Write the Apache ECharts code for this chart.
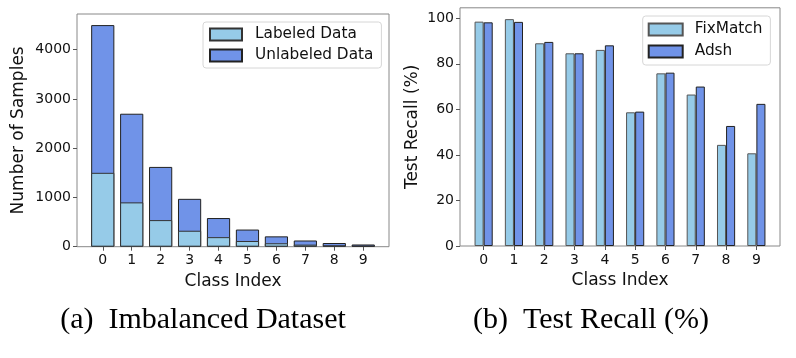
<!DOCTYPE html>
<html>
<head>
<meta charset="utf-8">
<script src="https://cdn.jsdelivr.net/npm/echarts@6/dist/echarts.min.js"></script>
<style>html,body{margin:0;padding:0;background:#fff;}#c{width:796px;height:358px;}</style>
</head>
<body>
<div id="c"></div>
<script>
const categories = ['0','1','2','3','4','5','6','7','8','9'];
const labeledData = [1500, 900, 540, 324, 194, 116, 70, 42, 25, 15];
const unlabeledData = [3000, 1800, 1080, 648, 388, 232, 140, 84, 50, 30];
const fixMatchRecall = [98.5, 99.6, 89.0, 84.6, 86.1, 58.7, 75.8, 66.5, 44.4, 40.7];
const adshRecall = [98.2, 98.4, 89.6, 84.6, 88.1, 59.0, 76.1, 70.0, 52.7, 62.4];
const leftYTicks = [0, 1000, 2000, 3000, 4000];
const rightYTicks = [0, 20, 40, 60, 80, 100];
const xTicks = [0,1,2,3,4,5,6,7,8,9];

const FONT = 'DejaVu Sans';
const LIGHT = '#96cbe8';
const BLUE = '#7093e8';

const chart = echarts.init(document.getElementById('c'), null, {renderer: 'canvas'});

function xAxisCfg(gridIndex, min, max) {
  return {
    type: 'value', gridIndex, min, max,
    axisLine: {show: false, onZero: false},
    splitLine: {show: false},
    axisTick: {show: true, customValues: xTicks, length: 4, lineStyle: {color: '#555'}},
    axisLabel: {show: true, customValues: xTicks, formatter: v => categories[Math.round(v)], fontFamily: FONT, fontSize: 14, color: '#111', margin: 7},
    name: 'Class Index', nameLocation: 'middle', nameGap: 24,
    nameTextStyle: {fontFamily: FONT, fontSize: 17, color: '#111'}
  };
}
function hiddenXCfg(gridIndex, min, max) {
  return {type: 'value', gridIndex, min, max, show: false, axisLine: {onZero: false}};
}
function yAxisCfg(gridIndex, max, ticks, name, gap) {
  return {
    type: 'value', gridIndex, min: 0, max: max,
    axisLine: {show: false, onZero: false},
    splitLine: {show: false},
    axisTick: {show: true, customValues: ticks, length: 4, lineStyle: {color: '#555'}},
    axisLabel: {customValues: ticks, formatter: v => String(v), fontFamily: FONT, fontSize: 14, color: '#111', margin: 6},
    name: name, nameLocation: 'middle', nameGap: gap,
    nameTextStyle: {fontFamily: FONT, fontSize: 17, color: '#111'}
  };
}

const totals = labeledData.map((v, i) => v + unlabeledData[i]);

chart.setOption({
  animation: false,
  grid: [
    {left: 77, right: 407, top: 14, bottom: 111.3, show: true, borderColor: '#888', borderWidth: 1, backgroundColor: 'transparent'},
    {left: 460, right: 16, top: 7.8, bottom: 112, show: true, borderColor: '#888', borderWidth: 1, backgroundColor: 'transparent'}
  ],
  xAxis: [
    xAxisCfg(0, -0.89, 9.89),
    hiddenXCfg(0, -0.89, 9.89),
    xAxisCfg(1, -0.78, 9.78),
    hiddenXCfg(1, -0.78, 9.78)
  ],
  yAxis: [
    yAxisCfg(0, 4725, leftYTicks, 'Number of Samples', 50),
    yAxisCfg(1, 104.58, rightYTicks, 'Test Recall (%)', 39)
  ],
  legend: [
    {
      data: ['Labeled Data', 'Unlabeled Data'], orient: 'vertical', left: 203, top: 22,
      itemWidth: 32, itemHeight: 12, itemGap: 6,
      padding: [5, 8, 5, 6],
      backgroundColor: '#fff', borderColor: '#d6d6d6', borderWidth: 1, borderRadius: 3,
      textStyle: {fontFamily: FONT, fontSize: 15.3, color: '#111', padding: [0, 0, 0, 8]},
      icon: 'rect'
    },
    {
      data: ['FixMatch', 'Adsh'], orient: 'vertical', left: 642.7, top: 16,
      itemWidth: 34, itemHeight: 12, itemGap: 7,
      padding: [6, 8, 6, 5],
      backgroundColor: '#fff', borderColor: '#d6d6d6', borderWidth: 1, borderRadius: 3,
      textStyle: {fontFamily: FONT, fontSize: 15.3, color: '#111', padding: [0, 0, 0, 7]},
      icon: 'rect'
    }
  ],
  series: [
    {
      name: 'Unlabeled Data', type: 'bar', xAxisIndex: 1, yAxisIndex: 0, z: 2,
      barWidth: 23.2,
      itemStyle: {color: BLUE, borderColor: '#222', borderWidth: 1},
      data: totals.map((v, i) => [i, v])
    },
    {
      name: 'Labeled Data', type: 'bar', xAxisIndex: 0, yAxisIndex: 0, z: 3,
      barWidth: 23.2,
      itemStyle: {color: LIGHT, borderColor: '#333', borderWidth: 1},
      data: labeledData.map((v, i) => [i, v])
    },
    {
      name: 'FixMatch', type: 'bar', xAxisIndex: 2, yAxisIndex: 1,
      barWidth: 9.06,
      itemStyle: {color: LIGHT, borderColor: '#555', borderWidth: 1},
      data: fixMatchRecall.map((v, i) => [i - 0.15, v])
    },
    {
      name: 'Adsh', type: 'bar', xAxisIndex: 3, yAxisIndex: 1,
      barWidth: 9.06,
      itemStyle: {color: BLUE, borderColor: '#222', borderWidth: 1},
      data: adshRecall.map((v, i) => [i + 0.15, v])
    }
  ],
  graphic: [
    {type: 'text', x: 203, y: 320, style: {text: '(a)  Imbalanced Dataset', font: '30px "Liberation Serif"', fill: '#000', align: 'center', verticalAlign: 'middle'}},
    {type: 'text', x: 591, y: 320, style: {text: '(b)  Test Recall (%)', font: '30px "Liberation Serif"', fill: '#000', align: 'center', verticalAlign: 'middle'}}
  ]
});
</script>
</body>
</html>
